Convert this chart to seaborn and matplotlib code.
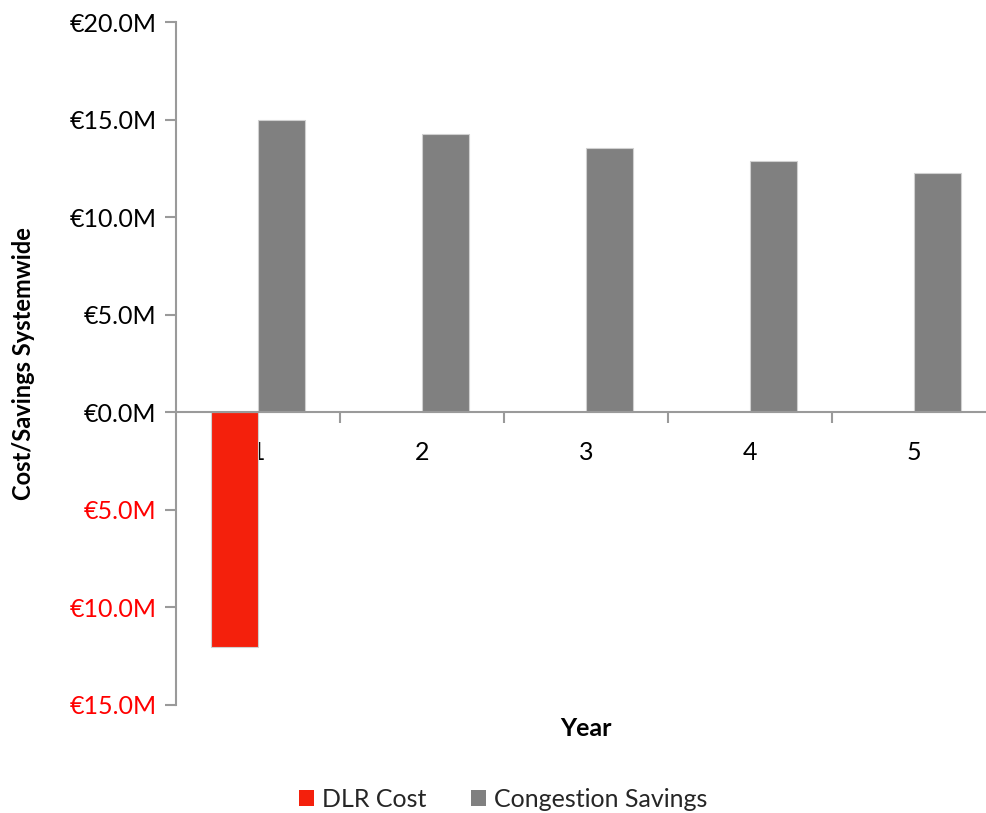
import matplotlib
matplotlib.use("Agg")
import matplotlib.pyplot as plt
from matplotlib.patches import Patch
from matplotlib.ticker import FuncFormatter, FixedLocator
import numpy as np
import pandas as pd
import seaborn as sns

# Chart data (values in € millions)
years = ["1", "2", "3", "4", "5"]
dlr_cost = [-12.05, np.nan, np.nan, np.nan, np.nan]
congestion_savings = [14.96, 14.25, 13.55, 12.88, 12.28]
series_names = ["DLR Cost", "Congestion Savings"]
series_colors = ["#F4200C", "#808080"]
y_ticks = [-15, -10, -5, 0, 5, 10, 15, 20]

df = pd.DataFrame({
    "Year": years * 2,
    "Series": [series_names[0]] * len(years) + [series_names[1]] * len(years),
    "Value": dlr_cost + congestion_savings,
})

sns.set_theme(style="white")
plt.rcParams["font.family"] = ["Lato", "DejaVu Sans"]

fig = plt.figure(figsize=(9.87, 8.13), dpi=100)
ax = fig.add_axes([176 / 987, 1 - 705 / 813, 820 / 987, 683 / 813])

sns.barplot(
    data=df, x="Year", y="Value", hue="Series", order=years,
    hue_order=series_names, palette=series_colors, width=0.575,
    saturation=1, edgecolor="#d0d0d0", linewidth=0.8, legend=False, ax=ax,
)

ax.set_xlim(-0.5, 4.5)
ax.set_ylim(-15, 20)

# spines: y axis on the left, category axis through zero
for side in ("top", "right"):
    ax.spines[side].set_visible(False)
axis_grey = "#9a9a9a"
ax.spines["left"].set_color(axis_grey)
ax.spines["left"].set_linewidth(1.5)
ax.spines["bottom"].set_color(axis_grey)
ax.spines["bottom"].set_linewidth(1.5)
ax.spines["bottom"].set_position(("data", 0))

# y ticks: euro millions, negatives shown in red without sign
ax.yaxis.set_major_locator(FixedLocator(y_ticks))
ax.yaxis.set_major_formatter(FuncFormatter(lambda v, p: f"€{abs(v):.1f}M"))
ax.tick_params(axis="y", direction="out", length=8, width=1.5, color=axis_grey,
               labelsize=18, pad=6, left=True)
for lbl, v in zip(ax.get_yticklabels(), y_ticks):
    lbl.set_color("#FF0000" if v < 0 else "#000000")

# x ticks: marks at category boundaries, labels at centres
n = len(years)
ax.xaxis.set_major_locator(FixedLocator([i + 0.5 for i in range(n - 1)]))
ax.xaxis.set_major_formatter(FuncFormatter(lambda v, p: ""))
ax.xaxis.set_minor_locator(FixedLocator(list(range(n))))
ax.xaxis.set_minor_formatter(FuncFormatter(lambda v, p: years[int(round(v))]))
ax.tick_params(axis="x", which="major", direction="out", length=8, width=1.5,
               color=axis_grey, bottom=True)
ax.tick_params(axis="x", which="minor", length=0, labelsize=18, pad=21,
               labelcolor="#000000", bottom=True)

ax.set_ylabel("Cost/Savings Systemwide", fontsize=17, fontweight="bold",
              color="#000000")
ax.yaxis.set_label_coords(-0.172, 0.5)
ax.set_xlabel("Year", fontsize=18, fontweight="bold", color="#000000")
ax.xaxis.set_label_coords(0.5, -0.017)

handles = [Patch(facecolor=c, edgecolor="none") for c in series_colors]
fig.legend(handles, series_names, loc="center", ncol=2, frameon=False,
           bbox_to_anchor=(0.51, 1 - 799 / 813), fontsize=18, handlelength=0.6,
           handleheight=0.6, handletextpad=0.3, columnspacing=1.8)

fig.savefig("out.png", dpi=100)
